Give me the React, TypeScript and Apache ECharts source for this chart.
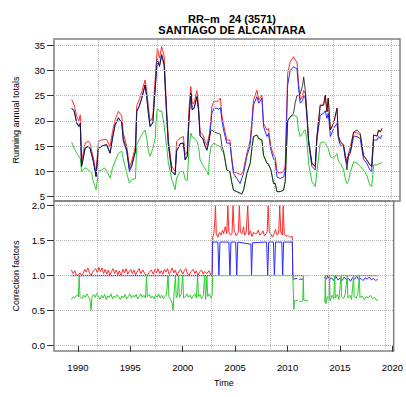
import React, { useEffect, useRef } from "react";
import * as echarts from "echarts";

// ---- Running annual totals (top panel) ----
const years = [
  1989.38, 1989.6, 1989.85, 1990.05, 1990.18, 1990.3, 1990.45, 1990.63, 1990.8, 1990.94,
  1991.1, 1991.25, 1991.4, 1991.66, 1991.88, 1992.2, 1992.45, 1992.66, 1992.97, 1993.2,
  1993.44, 1993.75, 1994.07, 1994.2, 1994.53, 1994.78, 1995.0, 1995.35, 1995.47, 1995.7,
  1995.94, 1996.25, 1996.4, 1996.56, 1996.72, 1996.97, 1997.2, 1997.3, 1997.4, 1997.6,
  1997.8, 1998.03, 1998.28, 1998.43, 1998.75, 1999.06, 1999.2, 1999.53, 1999.84, 2000.0,
  2000.2, 2000.35, 2000.53, 2000.66, 2000.84, 2001.1, 2001.25, 2001.4, 2001.66, 2001.87,
  2002.03, 2002.18, 2002.28, 2002.4, 2002.5, 2002.7, 2002.97, 2003.15, 2003.3, 2003.45,
  2003.6, 2003.9, 2004.2, 2004.35, 2004.53, 2004.84, 2005.15, 2005.3, 2005.47, 2005.78,
  2006.09, 2006.25, 2006.4, 2006.72, 2006.9, 2007.19, 2007.34, 2007.66, 2007.8, 2008.03,
  2008.28, 2008.44, 2008.6, 2008.9, 2009.21, 2009.37, 2009.6, 2009.84, 2010.15, 2010.3,
  2010.47, 2010.62, 2010.78, 2011.0, 2011.1, 2011.25, 2011.4, 2011.56, 2011.87, 2012.18,
  2012.34, 2012.65, 2012.96, 2013.12, 2013.28, 2013.4, 2013.6, 2013.9, 2014.22, 2014.35,
  2014.53, 2014.84, 2015.0, 2015.15, 2015.3, 2015.47, 2015.78, 2016.1, 2016.4, 2016.7,
  2017.0, 2017.3, 2017.47, 2017.65, 2017.97, 2018.12, 2018.28, 2018.44,
];
const blackTotals = [
  22.5, 22.0, 19.6, 18.9, 19.5, 11.0, 12.5, 14.6, 14.8, 15.0,
  14.5, 13.3, 12.0, 9.0, 14.6, 15.0, 15.2, 15.3, 13.6, 16.6,
  19.2, 20.6, 19.6, 16.6, 14.2, 10.5, 11.3, 14.0, 21.9, 22.9,
  24.5, 27.1, 24.8, 21.5, 18.9, 19.6, 26.5, 29.5, 32.1, 30.8,
  33.1, 31.1, 20.6, 15.3, 10.0, 9.3, 14.0, 15.5, 15.6, 12.3,
  13.0, 20.0, 25.5, 22.2, 22.5, 24.8, 22.2, 17.0, 16.5, 15.0,
  14.2, 15.5, 16.6, 18.0, 18.2, 17.8, 17.6, 17.5, 17.3, 15.0,
  13.9, 10.3, 9.9, 8.0, 6.3, 6.0, 5.7, 5.5, 6.3, 9.6,
  11.6, 14.5, 16.9, 17.2, 16.5, 16.2, 13.2, 11.6, 11.5, 10.3,
  7.6, 7.6, 6.0, 6.0, 6.3, 8.0, 20.0, 20.8, 21.5, 23.5,
  25.0, 25.0, 25.4, 27.0, 28.7, 26.0, 21.5, 16.2, 11.6, 11.0,
  16.9, 23.1, 23.1, 25.1, 21.8, 24.5, 18.2, 19.5, 22.5, 17.0,
  15.9, 15.2, 13.0, 10.3, 13.5, 14.0, 17.8, 18.2, 17.5, 13.2,
  12.3, 11.3, 11.0, 17.2, 17.0, 18.2, 17.8, 18.5,
];
const redTotals = [
  24.2, 23.2, 20.9, 20.0, 21.2, 12.0, 13.5, 15.6, 15.8, 16.0,
  15.5, 14.0, 12.8, 9.7, 15.9, 16.2, 16.3, 16.3, 14.9, 17.9,
  20.2, 21.9, 21.0, 17.6, 15.0, 11.0, 12.0, 15.0, 23.0, 24.2,
  25.8, 28.1, 26.0, 22.8, 19.8, 20.8, 28.5, 31.5, 34.4, 32.4,
  34.7, 32.9, 22.0, 16.3, 11.0, 10.0, 15.9, 16.6, 16.9, 13.3,
  14.0, 22.0, 26.8, 23.5, 23.5, 26.0, 23.2, 17.8, 17.3, 16.0,
  15.2, 16.5, 17.5, 20.0, 22.9, 24.0, 23.8, 24.1, 24.5, 21.0,
  19.2, 16.2, 16.2, 13.0, 9.9, 9.7, 9.4, 9.5, 10.3, 13.6,
  16.2, 20.0, 24.1, 26.1, 24.1, 25.1, 19.5, 18.2, 18.5, 14.9,
  13.2, 12.9, 9.9, 9.7, 9.9, 11.0, 29.4, 31.7, 32.7, 32.0,
  31.7, 27.4, 24.1, 25.0, 26.0, 25.5, 21.5, 16.2, 11.6, 11.0,
  16.9, 23.1, 23.1, 25.1, 21.8, 24.5, 18.2, 19.5, 22.5, 17.0,
  15.9, 15.2, 13.2, 12.0, 13.5, 14.9, 17.8, 17.6, 17.2, 13.2,
  12.3, 11.3, 11.0, 17.2, 17.0, 18.2, 17.8, 18.5,
];
const blueTotals = [
  22.5, 22.0, 19.6, 18.9, 19.5, 11.0, 12.5, 14.6, 14.8, 15.0,
  14.5, 13.3, 12.0, 9.0, 14.6, 15.0, 15.2, 15.3, 13.6, 16.6,
  19.2, 20.6, 19.6, 16.0, 14.0, 10.0, 11.0, 14.0, 21.9, 22.9,
  24.5, 27.1, 24.8, 21.5, 18.9, 19.6, 26.5, 29.5, 32.1, 30.8,
  33.1, 31.1, 20.6, 15.3, 10.0, 9.3, 14.0, 15.5, 15.6, 12.3,
  13.0, 20.0, 25.5, 22.2, 22.5, 24.8, 22.2, 17.0, 16.5, 15.0,
  14.2, 15.5, 16.9, 19.0, 21.5, 22.5, 22.5, 22.3, 22.6, 20.0,
  18.2, 15.6, 15.6, 12.5, 9.6, 8.6, 7.6, 8.6, 9.6, 13.0,
  15.2, 19.0, 23.1, 24.8, 23.5, 24.5, 18.9, 16.9, 17.5, 14.2,
  12.5, 11.9, 8.9, 8.6, 8.9, 10.0, 27.1, 30.0, 30.7, 30.5,
  30.3, 26.7, 23.5, 24.0, 25.0, 24.5, 20.8, 15.6, 11.0, 10.3,
  16.2, 21.1, 21.5, 22.0, 20.5, 21.5, 16.9, 18.5, 19.5, 16.5,
  15.2, 14.9, 12.5, 11.5, 13.0, 13.6, 17.0, 16.9, 16.5, 12.5,
  11.6, 10.3, 10.0, 16.2, 16.2, 16.9, 16.5, 17.2,
];
const greenTotals = [
  15.8, 14.6, 13.6, 13.0, 12.6, 10.0, 10.4, 10.7, 10.5, 10.3,
  10.0, 9.7, 8.0, 6.4, 10.0, 10.3, 10.7, 10.0, 8.7, 10.7,
  12.0, 13.6, 14.0, 12.5, 9.7, 7.7, 8.4, 8.6, 15.3, 16.3,
  17.3, 18.2, 16.6, 14.0, 13.0, 14.5, 16.6, 20.6, 22.5, 21.9,
  22.0, 19.2, 14.6, 11.7, 8.4, 6.4, 8.7, 10.0, 10.0, 8.4,
  8.2, 14.0, 17.6, 16.8, 16.6, 16.0, 15.0, 12.3, 11.2, 10.5,
  10.0, 9.3, 13.0, 14.6, 15.2, 15.6, 15.2, 15.0, 14.9, 14.0,
  13.9, 10.3, 9.9, 8.0, 6.3, 6.0, 5.7, 5.5, 6.3, 9.6,
  11.6, 14.5, 16.9, 17.2, 16.5, 16.2, 13.2, 11.6, 11.5, 10.3,
  7.6, 7.6, 6.0, 6.0, 6.3, 8.0, 20.0, 20.8, 21.1, 21.0,
  20.8, 18.2, 16.9, 17.5, 18.0, 18.2, 16.2, 11.6, 8.0, 7.0,
  9.9, 15.6, 15.9, 15.5, 15.0, 14.5, 12.9, 12.6, 13.5, 12.0,
  11.6, 10.3, 8.5, 7.6, 8.0, 9.9, 11.9, 11.6, 11.0, 10.3,
  9.3, 7.3, 7.0, 11.3, 11.3, 11.5, 11.6, 11.8,
];

// ---- Correction factors (bottom panel), [year, factor]; null = missing ----
const redFactors: [number, number | null][] = [
  [1989.38, 1.08], [1989.55, 1.03], [1989.7, 1.07], [1989.85, 1.01], [1990.0, 1.0], [1990.2, 1.04],
  [1990.35, 1.0], [1990.5, 1.03], [1990.65, 1.09], [1990.8, 1.05], [1990.95, 1.11], [1991.1, 1.04],
  [1991.25, 1.0], [1991.4, 1.05], [1991.55, 1.08], [1991.7, 1.1], [1991.85, 1.04], [1992.0, 1.12],
  [1992.15, 1.06], [1992.3, 1.11], [1992.45, 1.03], [1992.6, 1.09], [1992.75, 1.02], [1992.9, 1.08],
  [1993.05, 1.0], [1993.2, 1.06], [1993.35, 1.1], [1993.5, 1.03], [1993.65, 1.08], [1993.8, 1.01],
  [1993.95, 1.07], [1994.1, 1.0], [1994.3, 1.09], [1994.45, 1.04], [1994.6, 1.1], [1994.75, 1.02],
  [1994.9, 1.06], [1995.05, 1.09], [1995.2, 1.03], [1995.35, 1.08], [1995.5, 1.01], [1995.7, 1.07],
  [1995.85, 1.1], [1996.0, 1.03], [1996.2, 1.08], [1996.4, 1.02], [1996.6, 1.0], [1996.8, 1.05],
  [1997.0, 1.08], [1997.2, 1.02], [1997.35, 1.09], [1997.5, 1.04], [1997.65, 1.1], [1997.8, 1.03],
  [1997.95, 1.07], [1998.1, 1.02], [1998.25, 1.09], [1998.4, 1.05], [1998.55, 1.1], [1998.7, 1.02],
  [1998.85, 1.06], [1999.0, 1.11], [1999.15, 1.04], [1999.3, 1.08], [1999.45, 1.0], [1999.6, 1.05],
  [1999.8, 1.09], [2000.0, 1.02], [2000.15, 1.07], [2000.3, 1.1], [2000.45, 1.03], [2000.6, 1.0],
  [2000.8, 1.06], [2001.0, 1.09], [2001.15, 1.03], [2001.3, 1.07], [2001.45, 1.0], [2001.6, 1.05],
  [2001.8, 1.08], [2001.95, 1.02], [2002.1, 1.06], [2002.3, 1.03], [2002.5, 1.07], [2002.7, 1.01],
  [2002.8, 1.04], [2002.85, 1.55], [2002.95, 1.58], [2003.05, 1.75], [2003.12, 2.0], [2003.2, 1.6],
  [2003.35, 1.55], [2003.5, 1.62], [2003.65, 1.58], [2003.8, 1.65], [2003.9, 1.6], [2004.05, 1.7],
  [2004.2, 1.6], [2004.3, 2.0], [2004.4, 1.62], [2004.55, 1.58], [2004.7, 1.6], [2004.8, 2.0],
  [2004.9, 1.65], [2005.1, 1.57], [2005.3, 1.62], [2005.4, 2.0], [2005.5, 1.62], [2005.65, 1.6],
  [2005.8, 1.7], [2005.9, 1.58], [2006.05, 1.62], [2006.2, 2.0], [2006.3, 1.58], [2006.45, 1.64],
  [2006.6, 1.56], [2006.75, 1.62], [2006.9, 1.6], [2007.05, 1.6], [2007.2, 1.65], [2007.35, 1.58],
  [2007.5, 1.6], [2007.65, 1.64], [2007.8, 1.57], [2007.95, 1.6], [2008.05, 1.63], [2008.15, 2.0],
  [2008.25, 1.62], [2008.4, 1.6], [2008.55, 1.55], [2008.7, 1.6], [2008.85, 1.66], [2009.0, 1.58],
  [2009.15, 1.6], [2009.25, 2.0], [2009.35, 1.62], [2009.5, 1.58], [2009.58, 2.0], [2009.68, 1.6],
  [2009.85, 1.56], [2010.0, 1.58], [2010.2, 1.55], [2010.45, 1.56], [2010.5, 1.0], [2011.5, 1.0],
  [2011.55, null], [2011.9, 1.0], [2012.0, 1.0], [2012.05, null], [2013.5, 1.0], [2018.6, 1.0],
];
const blueFactors: [number, number | null][] = [
  [1989.38, 1.0], [2002.8, 1.0], [2002.85, 1.48], [2003.35, 1.48], [2003.45, 1.0], [2003.55, 1.48],
  [2004.4, 1.48], [2004.5, 1.0], [2004.6, 1.48], [2005.05, 1.48], [2005.15, 1.0], [2005.25, 1.48],
  [2006.5, 1.45], [2006.56, 1.0], [2006.65, 1.47], [2008.0, 1.48], [2008.1, 1.0], [2008.2, 1.48],
  [2008.65, 1.48], [2008.74, 1.0], [2008.85, 1.48], [2009.45, 1.48], [2009.53, 1.0], [2009.62, 1.48],
  [2010.45, 1.48], [2010.5, 1.0], [2010.55, 0.95], [2010.9, 0.96], [2011.0, null], [2011.1, 0.95],
  [2011.5, 0.95], [2011.55, null], [2013.5, 0.98], [2013.7, 0.95], [2013.85, 1.0], [2014.0, 0.94],
  [2014.2, 0.97], [2014.4, 0.93], [2014.6, 0.99], [2014.8, 0.94], [2015.0, 0.96], [2015.2, 0.93],
  [2015.4, 0.98], [2015.6, 0.94], [2015.8, 0.96], [2016.0, 0.92], [2016.2, 0.97], [2016.4, 0.95],
  [2016.6, 0.99], [2016.8, 0.94], [2017.0, 0.96], [2017.2, 0.93], [2017.4, 0.97], [2017.6, 0.95],
  [2017.8, 0.98], [2018.0, 0.94], [2018.2, 0.96], [2018.4, 0.93], [2018.6, 0.95],
];
const greenFactors: [number, number | null][] = [
  [1989.38, 0.66], [1989.55, 0.7], [1989.7, 0.68], [1989.9, 0.72], [1990.05, 0.7], [1990.12, 1.0],
  [1990.2, 0.7], [1990.4, 0.67], [1990.55, 0.72], [1990.7, 0.69], [1990.85, 0.74], [1991.0, 0.7],
  [1991.15, 0.66], [1991.25, 0.5], [1991.35, 0.7], [1991.5, 0.73], [1991.65, 0.69], [1991.8, 0.75],
  [1991.95, 0.7], [1992.1, 0.66], [1992.25, 0.72], [1992.4, 0.68], [1992.55, 0.73], [1992.7, 0.66],
  [1992.85, 0.71], [1993.0, 0.69], [1993.15, 0.74], [1993.3, 0.67], [1993.45, 0.71], [1993.6, 0.69],
  [1993.75, 0.73], [1993.9, 0.7], [1994.05, 0.66], [1994.2, 0.71], [1994.35, 0.68], [1994.5, 0.73],
  [1994.65, 0.67], [1994.8, 0.7], [1994.95, 0.74], [1995.1, 0.68], [1995.25, 0.72], [1995.4, 0.69],
  [1995.55, 0.73], [1995.7, 0.67], [1995.85, 0.7], [1996.0, 0.74], [1996.15, 0.69], [1996.3, 0.72],
  [1996.45, 0.68], [1996.55, 1.0], [1996.62, 0.7], [1996.8, 0.73], [1996.95, 0.68], [1997.1, 0.71],
  [1997.25, 0.67], [1997.4, 0.72], [1997.55, 0.69], [1997.7, 0.74], [1997.85, 0.68], [1998.0, 0.72],
  [1998.15, 0.67], [1998.3, 0.7], [1998.45, 0.73], [1998.6, 1.0], [1998.68, 0.7], [1998.85, 0.66],
  [1999.0, 0.6], [1999.08, 0.5], [1999.15, 0.7], [1999.3, 1.0], [1999.38, 0.68], [1999.5, 0.72],
  [1999.6, 1.0], [1999.68, 0.69], [1999.85, 0.73], [2000.0, 1.0], [2000.08, 0.68], [2000.25, 0.7],
  [2000.4, 0.74], [2000.55, 0.69], [2000.7, 0.72], [2000.85, 0.67], [2001.0, 0.71], [2001.15, 0.74],
  [2001.3, 0.68], [2001.42, 1.0], [2001.5, 0.7], [2001.65, 0.73], [2001.8, 0.67], [2001.95, 0.71],
  [2002.1, 1.0], [2002.18, 0.66], [2002.3, 1.0], [2002.38, 0.7], [2002.55, 0.74], [2002.7, 0.68],
  [2002.8, 0.72], [2002.85, 1.0], [2010.5, 1.0], [2010.6, 0.52], [2010.65, 0.64], [2011.0, 0.65],
  [2011.05, null], [2011.1, 0.63], [2011.45, 0.64], [2011.5, 1.0], [2011.55, 0.65], [2011.95, 0.64],
  [2012.0, null], [2013.55, 0.62], [2013.6, 1.0], [2013.65, 0.6], [2013.8, 0.7], [2013.95, 0.66],
  [2014.0, 1.0], [2014.05, 0.64], [2014.25, 0.72], [2014.4, 0.67], [2014.5, 1.0], [2014.55, 0.68],
  [2014.75, 0.73], [2014.9, 0.66], [2015.1, 1.0], [2015.15, 0.7], [2015.35, 0.67], [2015.5, 0.74],
  [2015.7, 1.0], [2015.75, 0.68], [2015.95, 0.72], [2016.1, 0.66], [2016.3, 1.0], [2016.35, 0.7],
  [2016.55, 0.68], [2016.7, 0.73], [2016.85, 1.0], [2016.9, 0.69], [2017.1, 0.71], [2017.3, 0.66],
  [2017.5, 0.7], [2017.7, 0.68], [2017.9, 0.72], [2018.1, 0.67], [2018.3, 0.69], [2018.5, 0.64],
  [2018.6, 0.66],
];

const yTicksTop = [5, 10, 15, 20, 25, 30, 35];
const yTicksBottom = [0, 0.5, 1, 1.5, 2];
const xTicks = [1990, 1995, 2000, 2005, 2010, 2015, 2020];
const gridYears = [1991.87, 1997.35, 2002.72, 2008.3, 2013.87, 2019.3];

const FONT = "Liberation Sans, Arial, Helvetica, sans-serif";
const RED = "#ff2a2a";
const BLUE = "#2a2aff";
const GREEN = "#2bcc2b";
const BLACK = "#111111";
const X_MIN = 1987.72;
const X_MAX = 2020.12;

export default function App() {
  const ref = useRef<HTMLDivElement>(null);
  useEffect(() => {
    if (!ref.current) return;
    const chart = echarts.init(ref.current, undefined, { renderer: "svg" });
    const dotted = { type: "dotted" as const, color: "#b8b8b8", width: 1 };
    const gridMark = (yVals: number[]) => ({
      silent: true,
      symbol: "none",
      label: { show: false },
      lineStyle: dotted,
      data: [
        ...yVals.map((v) => ({ yAxis: v })),
        ...gridYears.map((v) => ({ xAxis: v })),
      ],
    });
    const toPairs = (vals: number[]) => years.map((t, i) => [t, vals[i]]);
    const fix = (arr: [number, number | null][]) => arr.map(([t, v]) => [t, v === null ? "-" : v]);
    const line = (name: string, data: any[], color: string, idx: number, extra: any = {}) => ({
      name,
      type: "line",
      xAxisIndex: idx,
      yAxisIndex: idx,
      data,
      showSymbol: false,
      symbol: "none",
      connectNulls: false,
      lineStyle: { color, width: 1 },
      itemStyle: { color },
      z: 3,
      ...extra,
    });
    const axisText = { fontFamily: FONT, fontSize: 9.5, color: "#000" };
    chart.setOption({
      animation: false,
      backgroundColor: "#fff",
      title: [
        {
          text: "RR–m   24 (3571)",
          left: 227,
          top: 8,
          textAlign: "center",
          textStyle: { fontFamily: FONT, fontSize: 11, fontWeight: "bold", color: "#000" },
        },
        {
          text: "SANTIAGO DE ALCANTARA",
          left: 227,
          top: 19,
          textAlign: "center",
          textStyle: { fontFamily: FONT, fontSize: 11, fontWeight: "bold", color: "#000" },
        },
      ],
      grid: [
        { left: 54, right: 6, top: 39, height: 162, show: true, borderColor: "#808080", borderWidth: 1.5, backgroundColor: "transparent" },
        { left: 54, right: 6, top: 201, height: 150, show: true, borderColor: "#808080", borderWidth: 1.5, backgroundColor: "transparent" },
      ],
      xAxis: [
        {
          type: "value", gridIndex: 0, min: X_MIN, max: X_MAX,
          axisLine: { show: false }, axisTick: { show: false }, axisLabel: { show: false }, splitLine: { show: false },
        },
        {
          type: "value", gridIndex: 1, min: X_MIN, max: X_MAX,
          name: "Time", nameLocation: "middle", nameGap: 27,
          nameTextStyle: { fontFamily: FONT, fontSize: 9, color: "#000" },
          axisLine: { show: false },
          axisTick: { show: true, customValues: xTicks, length: 6, lineStyle: { color: "#333" } },
          axisLabel: { show: true, customValues: xTicks, margin: 11, ...axisText, formatter: (v: number) => String(Math.round(v)) },
          splitLine: { show: false },
        },
      ],
      yAxis: [
        {
          type: "value", gridIndex: 0, min: 4.15, max: 36.2,
          name: "Running annual totals", nameLocation: "middle", nameGap: 34,
          nameTextStyle: { fontFamily: FONT, fontSize: 9, color: "#000" },
          axisLine: { show: false },
          axisTick: { show: true, customValues: yTicksTop, length: 7, lineStyle: { color: "#333" } },
          axisLabel: { show: true, customValues: yTicksTop, margin: 9, ...axisText },
          splitLine: { show: false },
        },
        {
          type: "value", gridIndex: 1, min: -0.077, max: 2.067,
          name: "Correction factors", nameLocation: "middle", nameGap: 34,
          nameTextStyle: { fontFamily: FONT, fontSize: 9, color: "#000" },
          axisLine: { show: false },
          axisTick: { show: true, customValues: yTicksBottom, length: 7, lineStyle: { color: "#333" } },
          axisLabel: { show: true, customValues: yTicksBottom, margin: 9, ...axisText, formatter: (v: number) => v.toFixed(1) },
          splitLine: { show: false },
        },
      ],
      series: [
        line("green", toPairs(greenTotals), GREEN, 0, { markLine: gridMark(yTicksTop), z: 2 }),
        line("red", toPairs(redTotals), RED, 0),
        line("blue", toPairs(blueTotals), BLUE, 0),
        line("black", toPairs(blackTotals), BLACK, 0, { lineStyle: { color: BLACK, width: 1, opacity: 0.8 } }),
        line("redF", fix(redFactors), RED, 1, { markLine: gridMark(yTicksBottom), z: 2 }),
        line("blueF", fix(blueFactors), BLUE, 1),
        line("greenF", fix(greenFactors), GREEN, 1),
      ],
    });
    return () => chart.dispose();
  }, []);
  return <div ref={ref} style={{ position: "absolute", left: 0, top: 0, width: 406, height: 397 }} />;
}
